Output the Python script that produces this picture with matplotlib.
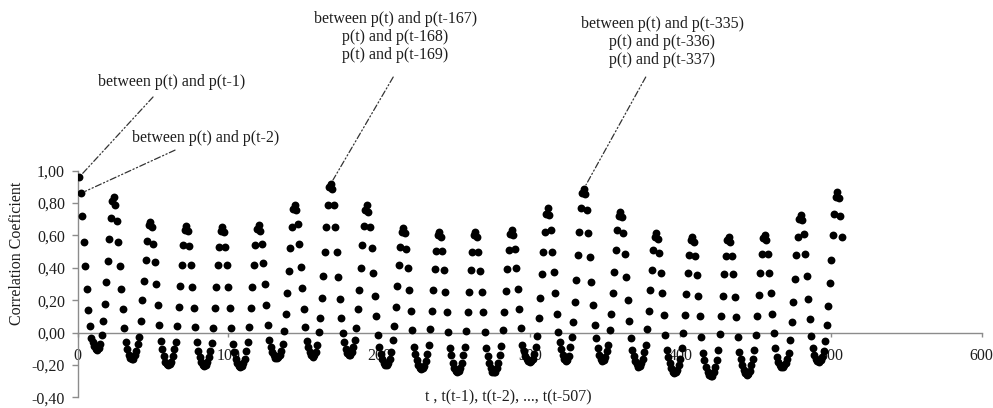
import numpy as np
import matplotlib.pyplot as plt

# autocorrelation of the hourly series p(t) with p(t-k), k = 1..507
# one list per day of lags (24 values each)
day01 = [0.96, 0.86, 0.72, 0.56, 0.41, 0.27, 0.14,
         0.04, -0.03, -0.06, -0.085, -0.10, -0.105, -0.095, -0.07, -0.015,
         0.07, 0.18, 0.31, 0.44, 0.58, 0.71, 0.81, 0.835]
day02 = [0.79, 0.69, 0.56, 0.41, 0.27, 0.145, 0.03,
         -0.055, -0.10, -0.135, -0.155, -0.165, -0.16, -0.14, -0.11, -0.07,
         -0.025, 0.07, 0.20, 0.32, 0.45, 0.565, 0.665, 0.685]
day03 = [0.655, 0.55, 0.435, 0.30, 0.17, 0.047, -0.05,
         -0.10, -0.145, -0.18, -0.195, -0.20, -0.195, -0.18, -0.145, -0.10,
         -0.055, 0.04, 0.16, 0.29, 0.42, 0.54, 0.635, 0.66]
day04 = [0.625, 0.535, 0.42, 0.28, 0.155, 0.035, -0.055,
         -0.11, -0.15, -0.18, -0.20, -0.205, -0.20, -0.18, -0.15, -0.11,
         -0.066, 0.03, 0.154, 0.284, 0.42, 0.53, 0.63, 0.654]
day05 = [0.62, 0.53, 0.42, 0.28, 0.15, 0.027, -0.072,
         -0.12, -0.16, -0.19, -0.205, -0.21, -0.205, -0.19, -0.16, -0.115,
         -0.055, 0.037, 0.154, 0.284, 0.42, 0.54, 0.64, 0.665]
day06 = [0.63, 0.55, 0.43, 0.30, 0.17, 0.05, -0.045,
         -0.09, -0.12, -0.14, -0.155, -0.155, -0.15, -0.135, -0.11, -0.07,
         0.01, 0.113, 0.243, 0.38, 0.52, 0.654, 0.765, 0.79]
day07 = [0.755, 0.67, 0.545, 0.407, 0.274, 0.146, 0.037,
         -0.05, -0.09, -0.12, -0.14, -0.148, -0.14, -0.12, -0.076, 0.006,
         0.093, 0.216, 0.35, 0.496, 0.654, 0.79, 0.90, 0.92]
day08 = [0.887, 0.79, 0.654, 0.50, 0.346, 0.21, 0.09,
         -0.004, -0.06, -0.10, -0.125, -0.138, -0.135, -0.12, -0.09, -0.045,
         0.03, 0.146, 0.263, 0.40, 0.54, 0.66, 0.755, 0.79]
day09 = [0.747, 0.65, 0.52, 0.37, 0.228, 0.10, -0.014,
         -0.086, -0.13, -0.165, -0.19, -0.20, -0.20, -0.185, -0.16, -0.12,
         -0.045, 0.043, 0.16, 0.29, 0.42, 0.53, 0.62, 0.644]
day10 = [0.613, 0.516, 0.40, 0.263, 0.136, 0.016, -0.086,
         -0.13, -0.17, -0.20, -0.215, -0.225, -0.22, -0.205, -0.175, -0.13,
         -0.076, 0.023, 0.136, 0.263, 0.393, 0.504, 0.60, 0.623]
day11 = [0.593, 0.504, 0.387, 0.249, 0.13, 0.006, -0.097,
         -0.14, -0.185, -0.215, -0.235, -0.24, -0.235, -0.215, -0.185, -0.14,
         -0.086, 0.01, 0.126, 0.253, 0.387, 0.50, 0.60, 0.623]
day12 = [0.593, 0.496, 0.38, 0.249, 0.126, 0.006, -0.093,
         -0.145, -0.19, -0.22, -0.24, -0.245, -0.24, -0.22, -0.19, -0.14,
         -0.08, 0.016, 0.13, 0.257, 0.393, 0.51, 0.61, 0.634]
day13 = [0.603, 0.516, 0.397, 0.27, 0.146, 0.027, -0.076,
         -0.11, -0.145, -0.165, -0.175, -0.18, -0.175, -0.16, -0.13, -0.09,
         -0.018, 0.088, 0.216, 0.36, 0.496, 0.623, 0.73, 0.767]
day14 = [0.726, 0.634, 0.496, 0.377, 0.243, 0.113, 0.006,
         -0.06, -0.10, -0.135, -0.16, -0.175, -0.17, -0.145, -0.09, -0.025,
         0.068, 0.187, 0.325, 0.48, 0.623, 0.767, 0.86, 0.89]
day15 = [0.854, 0.757, 0.617, 0.47, 0.315, 0.17, 0.05,
         -0.035, -0.097, -0.14, -0.165, -0.175, -0.17, -0.15, -0.115, -0.076,
         0.016, 0.115, 0.243, 0.372, 0.51, 0.634, 0.72, 0.747]
day16 = [0.716, 0.617, 0.484, 0.346, 0.20, 0.074, -0.035,
         -0.107, -0.145, -0.175, -0.195, -0.21, -0.205, -0.19, -0.16, -0.12,
         -0.076, 0.023, 0.136, 0.263, 0.387, 0.51, 0.59, 0.613]
day17 = [0.58, 0.49, 0.366, 0.243, 0.109, -0.014, -0.107,
         -0.15, -0.19, -0.22, -0.24, -0.25, -0.245, -0.23, -0.20, -0.16,
         -0.097, -0.004, 0.109, 0.237, 0.366, 0.48, 0.575, 0.593]
day18 = [0.56, 0.475, 0.356, 0.228, 0.10, -0.025, -0.128,
         -0.17, -0.21, -0.24, -0.26, -0.27, -0.265, -0.245, -0.21, -0.17,
         -0.107, -0.01, 0.105, 0.228, 0.36, 0.475, 0.575, 0.593]
day19 = [0.56, 0.475, 0.36, 0.222, 0.099, -0.025, -0.117,
         -0.16, -0.20, -0.23, -0.25, -0.26, -0.255, -0.235, -0.20, -0.16,
         -0.107, -0.014, 0.105, 0.232, 0.366, 0.484, 0.585, 0.603]
day20 = [0.572, 0.484, 0.366, 0.243, 0.115, -0.004, -0.097,
         -0.15, -0.18, -0.20, -0.21, -0.21, -0.20, -0.185, -0.16, -0.128,
         -0.045, 0.068, 0.19, 0.33, 0.48, 0.593, 0.70, 0.726]
day21 = [0.695, 0.607, 0.484, 0.35, 0.21, 0.084, -0.02,
         -0.097, -0.135, -0.16, -0.175, -0.18, -0.17, -0.15, -0.11, -0.05,
         0.047, 0.167, 0.305, 0.45, 0.60, 0.73, 0.84, 0.866]
day22 = [0.83, 0.72, 0.593]

acf = np.concatenate([day01, day02, day03, day04, day05, day06, day07, day08,
                      day09, day10, day11, day12, day13, day14, day15, day16,
                      day17, day18, day19, day20, day21, day22])
lags = np.arange(1, len(acf) + 1)

yticks = [-0.4, -0.2, 0.0, 0.2, 0.4, 0.6, 0.8, 1.0]
xticks = [0, 100, 200, 300, 400, 500, 600]

# notes: (label, lag it points at, text position, where the leader line starts)
notes = [
    ("between p(t) and p(t-1)", 1, (62.6, 1.549), (50.0, 1.455)),
    ("between p(t) and p(t-2)", 2, (85.0, 1.200), (64.6, 1.127)),
    ("between p(t) and p(t-167)\np(t) and p(t-168)\np(t) and p(t-169)", 168,
     (210.9, 1.827), (209.4, 1.578)),
    ("between p(t) and p(t-335)\np(t) and p(t-336)\np(t) and p(t-337)", 336,
     (387.8, 1.796), (377.0, 1.578)),
]

plt.rcParams['font.family'] = ['Liberation Serif', 'DejaVu Serif']
fs = 11.5
grey = '#8c8c8c'
ink = '#1e1e1e'

fig = plt.figure(figsize=(9.93, 4.08), dpi=100)
ax = fig.add_axes([0.07825, 0.02574, 0.9104, 0.5559])

ax.scatter(lags, acf, s=32, color='black', linewidths=0, zorder=3)

ax.set_xlim(0, 600)
ax.set_ylim(-0.4, 1.0)
ax.spines['top'].set_visible(False)
ax.spines['right'].set_visible(False)
ax.spines['bottom'].set_position(('data', 0))
for side in ('left', 'bottom'):
    ax.spines[side].set_color(grey)
    ax.spines[side].set_linewidth(1.0)

ax.set_yticks(yticks)
ax.set_yticklabels([f"{v:.2f}".replace('.', ',') for v in yticks])
ax.set_xticks(xticks)
ax.set_xticklabels([str(v) for v in xticks])
ax.tick_params(axis='y', direction='out', length=4.3, width=1.0, color=grey,
               pad=4.8, labelsize=fs, labelcolor=ink)
ax.tick_params(axis='x', direction='out', length=3, width=1.0, color=grey,
               pad=8.3, labelsize=fs, labelcolor=ink)

ax.set_ylabel("Correlation Coeficient", fontsize=fs, color=ink, va='center')
ax.yaxis.set_label_coords(-0.0666, 0.636)
ax.set_xlabel("t , t(t-1), t(t-2), ..., t(t-507)", fontsize=fs, color=ink,
              va='center')
ax.xaxis.set_label_coords(0.476, 0.0)

for label, lag, text_xy, line_xy in notes:
    ax.text(text_xy[0], text_xy[1], label, fontsize=fs, color=ink,
            ha='center', va='center', multialignment='center',
            linespacing=1.17, clip_on=False)
    ax.annotate('', xy=(lag, acf[lag - 1]), xytext=line_xy,
                annotation_clip=False,
                arrowprops=dict(arrowstyle='-', color='#333333', lw=0.9,
                                linestyle=(0, (5, 2, 1, 2, 1, 2)),
                                shrinkA=0, shrinkB=3))

fig.savefig('out.png', dpi=100)
